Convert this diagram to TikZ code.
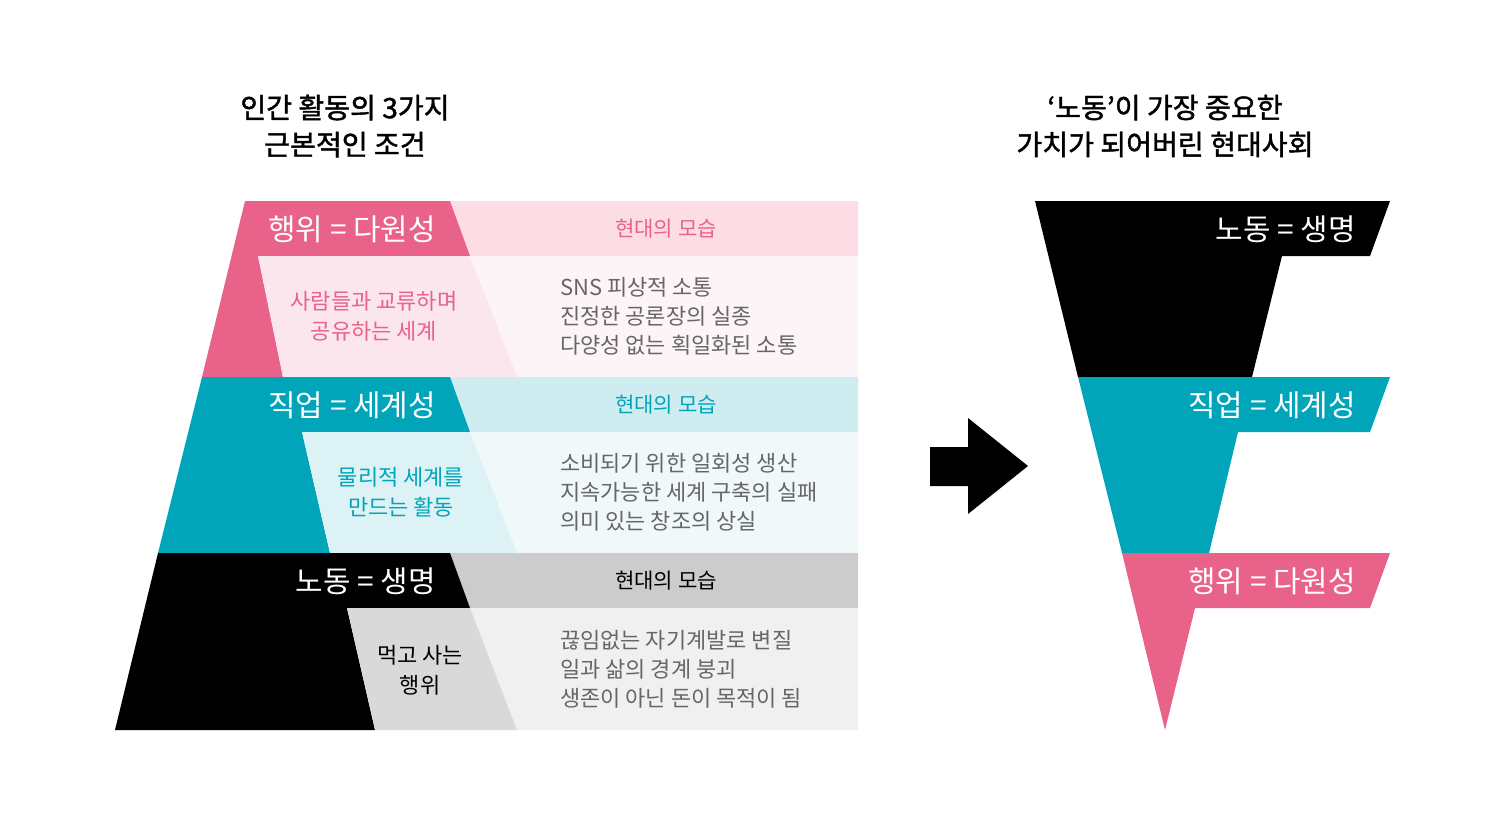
\documentclass[tikz,border=0pt]{standalone}
\usepackage{fontspec}
\setmainfont{Noto Sans CJK KR}
\newfontfamily\boldkr[FakeBold=1.5]{Noto Sans CJK KR}
\definecolor{pinkD}{HTML}{E8628A}
\definecolor{pinkH}{HTML}{FCDDE6}
\definecolor{pinkP}{HTML}{FCE6ED}
\definecolor{pinkB}{HTML}{FDF4F7}
\definecolor{cyanD}{HTML}{00A5BA}
\definecolor{cyanH}{HTML}{CFEDF1}
\definecolor{cyanP}{HTML}{DCF2F5}
\definecolor{cyanB}{HTML}{F0F8FA}
\definecolor{greyH}{HTML}{CCCCCC}
\definecolor{greyP}{HTML}{D9D9D9}
\definecolor{greyB}{HTML}{F0F0F0}
\definecolor{bodytxt}{HTML}{666666}
\tikzset{
  title/.style={font=\boldkr\fontsize{16}{21}\selectfont, align=center},
  head/.style={font=\fontsize{17}{20}\selectfont, white, anchor=east},
  now/.style={font=\fontsize{12}{14}\selectfont},
  panel/.style={font=\fontsize{12.5}{17}\selectfont, align=center},
  body/.style={font=\fontsize{12.5}{16.5}\selectfont, align=left, anchor=west, bodytxt}
}
\begin{document}
\begin{tikzpicture}[x=0.02cm,y=-0.02cm]
  \useasboundingbox (0,0) rectangle (1506,825);
  % titles
  \node[title] (lefttitle) at (345,126) {인간 활동의 3가지\\근본적인 조건};
  \node[title] (righttitle) at (1165,126) {‘노동’이 가장 중요한\\가치가 되어버린 현대사회};
  % pink band
  \fill[pinkH] (450,201) -- (858,201) -- (858,256) -- (470,256) -- cycle;
  \fill[pinkB] (470,256) -- (858,256) -- (858,377) -- (517,377) -- cycle;
  \fill[pinkD] (245,201) -- (450,201) -- (470,256) -- (258,256) -- (283,377) -- (202,377) -- cycle;
  \fill[pinkP] (258,256) -- (470,256) -- (517,377) -- (283,377) -- cycle;
  % cyan band
  \fill[cyanH] (450,377) -- (858,377) -- (858,432) -- (470,432) -- cycle;
  \fill[cyanB] (470,432) -- (858,432) -- (858,553) -- (517,553) -- cycle;
  \fill[cyanD] (202,377) -- (450,377) -- (470,432) -- (302,432) -- (330,553) -- (158,553) -- cycle;
  \fill[cyanP] (302,432) -- (470,432) -- (517,553) -- (330,553) -- cycle;
  % black band
  \fill[greyH] (450,553) -- (858,553) -- (858,608) -- (470,608) -- cycle;
  \fill[greyB] (470,608) -- (858,608) -- (858,730) -- (517,730) -- cycle;
  \fill[black] (158,553) -- (450,553) -- (470,608) -- (347,608) -- (375,730) -- (115,730) -- cycle;
  \fill[greyP] (347,608) -- (470,608) -- (517,730) -- (375,730) -- cycle;
  % left texts
  \node[head] (plurality) at (442,229) {행위 = 다원성};
  \node[now, pinkD] (nowpink) at (666,229) {현대의 모습};
  \node[panel, pinkD] (sharing) at (374,316) {사람들과 교류하며\\공유하는 세계};
  \node[body] (pinkbody) at (554,316) {SNS 피상적 소통\\진정한 공론장의 실종\\다양성 없는 획일화된 소통};
  \node[head] (worldness) at (442,405) {직업 = 세계성};
  \node[now, cyanD] (nowcyan) at (666,405) {현대의 모습};
  \node[panel, cyanD] (making) at (401,492) {물리적 세계를\\만드는 활동};
  \node[body] (cyanbody) at (554,492) {소비되기 위한 일회성 생산\\지속가능한 세계 구축의 실패\\의미 있는 창조의 상실};
  \node[head] (life) at (442,581) {노동 = 생명};
  \node[now] (nowgrey) at (666,581) {현대의 모습};
  \node[panel] (living) at (420,670) {먹고 사는\\행위};
  \node[body] (greybody) at (554,669) {끊임없는 자기계발로 변질\\일과 삶의 경계 붕괴\\생존이 아닌 돈이 목적이 됨};
  % arrow
  \fill[black] (930,447) -- (968,447) -- (968,418) -- (1028,466) -- (968,514) -- (968,486) -- (930,486) -- cycle;
  % funnel
  \fill[black] (1035,201) -- (1390,201) -- (1370,256) -- (1282,256) -- (1252,377) -- (1078,377) -- cycle;
  \fill[cyanD] (1078,377) -- (1390,377) -- (1370,432) -- (1238,432) -- (1209,553) -- (1122,553) -- cycle;
  \fill[pinkD] (1122,553) -- (1390,553) -- (1370,608) -- (1195,608) -- (1165,730) -- cycle;
  \node[head] (rlife) at (1362,229) {노동 = 생명};
  \node[head] (rworld) at (1362,405) {직업 = 세계성};
  \node[head] (rplural) at (1362,581) {행위 = 다원성};
\end{tikzpicture}
\end{document}
